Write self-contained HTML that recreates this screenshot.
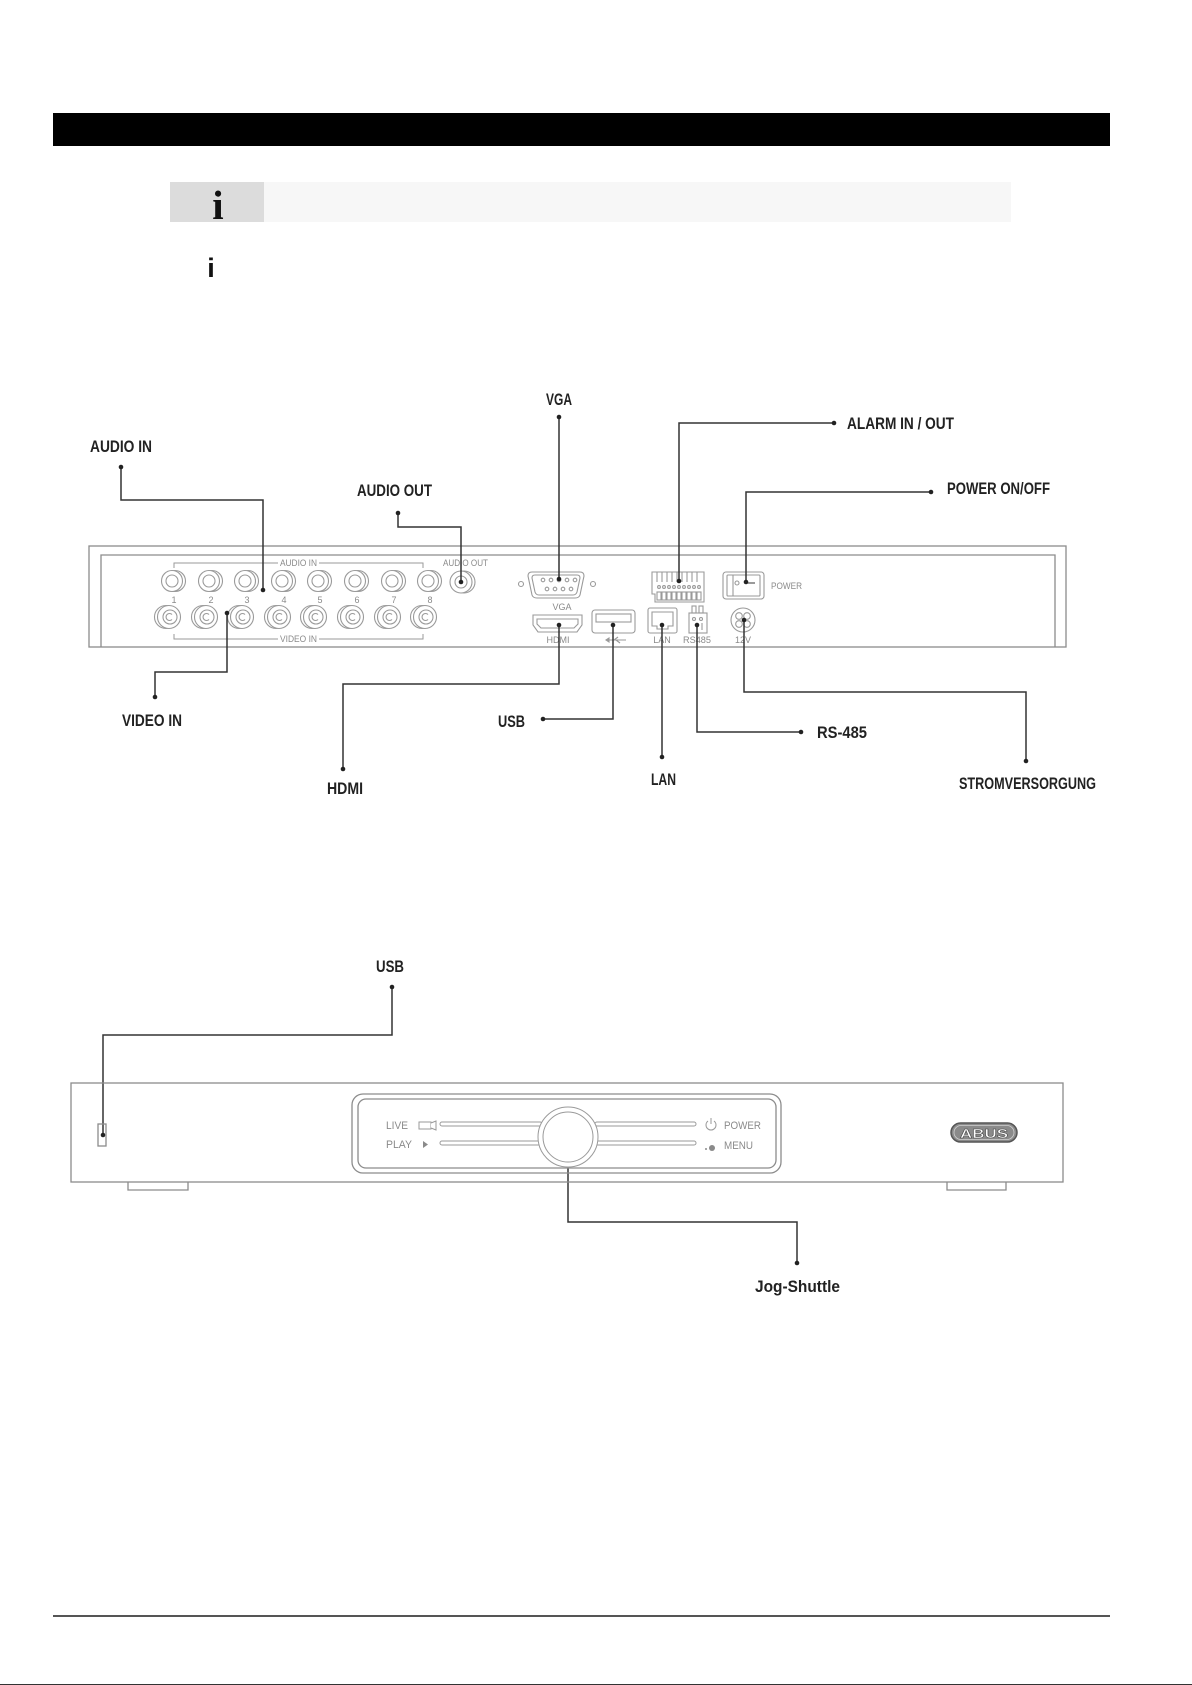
<!DOCTYPE html>
<html>
<head>
<meta charset="utf-8">
<style>
html,body{margin:0;padding:0;background:#fff;}
body{width:1192px;height:1685px;overflow:hidden;}
svg{display:block;}
.lbl{font-family:"Liberation Sans Narrow","Liberation Sans",sans-serif;font-weight:bold;font-size:17px;fill:#222;}
.sm{font-family:"Liberation Sans",sans-serif;font-size:9px;fill:#8a8a8a;}
.fp{font-family:"Liberation Sans",sans-serif;font-size:11px;fill:#8a8a8a;}
</style>
</head>
<body>
<svg width="1192" height="1685" viewBox="0 0 1192 1685" xmlns="http://www.w3.org/2000/svg">
  <!-- header -->
  <rect x="53" y="113" width="1057" height="33" fill="#000"/>
  <rect x="170" y="182" width="94" height="40" fill="#dcdcdc"/>
  <rect x="264" y="182" width="747" height="40" fill="#f7f7f7"/>
  <text x="218" y="219" text-anchor="middle" font-family="Liberation Serif,serif" font-weight="bold" font-size="41" fill="#111">i</text>
  <text x="211" y="277" text-anchor="middle" font-family="Liberation Sans,sans-serif" font-weight="bold" font-size="27" fill="#111">i</text>

  <!-- ============ REAR PANEL ============ -->
  <g fill="none" stroke="#8c8c8c" stroke-width="1.3">
    <rect x="89" y="546" width="977" height="101"/>
    <polyline points="101,647 101,555 1055,555 1055,647"/>
  </g>

  <!-- audio in bracket -->
  <g fill="none" stroke="#9a9a9a" stroke-width="1">
    <polyline points="174,568 174,563 278,563"/>
    <polyline points="319,563 423,563 423,568"/>
    <polyline points="174,634 174,639 278,639"/>
    <polyline points="319,639 423,639 423,634"/>
  </g>
  <text class="sm" x="298.5" y="566" text-anchor="middle" textLength="37" lengthAdjust="spacingAndGlyphs">AUDIO IN</text>
  <text class="sm" x="298.5" y="642" text-anchor="middle" textLength="37" lengthAdjust="spacingAndGlyphs">VIDEO IN</text>
  <text class="sm" x="443" y="566" textLength="45" lengthAdjust="spacingAndGlyphs">AUDIO OUT</text>

  <!-- RCA audio -->
  <g fill="#fff" stroke="#9a9a9a" stroke-width="1.1">
    <circle cx="175" cy="581" r="10.5"/><circle cx="172" cy="581" r="10.5"/><circle cx="172" cy="581" r="6"/>
    <circle cx="212" cy="581" r="10.5"/><circle cx="209" cy="581" r="10.5"/><circle cx="209" cy="581" r="6"/>
    <circle cx="248" cy="581" r="10.5"/><circle cx="245" cy="581" r="10.5"/><circle cx="245" cy="581" r="6"/>
    <circle cx="285" cy="581" r="10.5"/><circle cx="282" cy="581" r="10.5"/><circle cx="282" cy="581" r="6"/>
    <circle cx="321" cy="581" r="10.5"/><circle cx="318" cy="581" r="10.5"/><circle cx="318" cy="581" r="6"/>
    <circle cx="358" cy="581" r="10.5"/><circle cx="355" cy="581" r="10.5"/><circle cx="355" cy="581" r="6"/>
    <circle cx="395" cy="581" r="10.5"/><circle cx="392" cy="581" r="10.5"/><circle cx="392" cy="581" r="6"/>
    <circle cx="431" cy="581" r="10.5"/><circle cx="428" cy="581" r="10.5"/><circle cx="428" cy="581" r="6"/>
    <!-- audio out -->
    <circle cx="464" cy="582" r="11"/><circle cx="461" cy="582" r="11"/><circle cx="461" cy="582" r="6"/>
  </g>
  <!-- BNC video -->
  <g fill="#fff" stroke="#9a9a9a" stroke-width="1.1">
    <circle cx="166" cy="617" r="11.5"/><circle cx="169" cy="617" r="11.5"/><circle cx="170" cy="617" r="7"/><path d="M172,614.5 A3.5,3.5 0 1 0 172,619.5"/>
    <circle cx="203" cy="617" r="11.5"/><circle cx="206" cy="617" r="11.5"/><circle cx="207" cy="617" r="7"/><path d="M209,614.5 A3.5,3.5 0 1 0 209,619.5"/>
    <circle cx="239" cy="617" r="11.5"/><circle cx="242" cy="617" r="11.5"/><circle cx="243" cy="617" r="7"/><path d="M245,614.5 A3.5,3.5 0 1 0 245,619.5"/>
    <circle cx="276" cy="617" r="11.5"/><circle cx="279" cy="617" r="11.5"/><circle cx="280" cy="617" r="7"/><path d="M282,614.5 A3.5,3.5 0 1 0 282,619.5"/>
    <circle cx="312" cy="617" r="11.5"/><circle cx="315" cy="617" r="11.5"/><circle cx="316" cy="617" r="7"/><path d="M318,614.5 A3.5,3.5 0 1 0 318,619.5"/>
    <circle cx="349" cy="617" r="11.5"/><circle cx="352" cy="617" r="11.5"/><circle cx="353" cy="617" r="7"/><path d="M355,614.5 A3.5,3.5 0 1 0 355,619.5"/>
    <circle cx="386" cy="617" r="11.5"/><circle cx="389" cy="617" r="11.5"/><circle cx="390" cy="617" r="7"/><path d="M392,614.5 A3.5,3.5 0 1 0 392,619.5"/>
    <circle cx="422" cy="617" r="11.5"/><circle cx="425" cy="617" r="11.5"/><circle cx="426" cy="617" r="7"/><path d="M428,614.5 A3.5,3.5 0 1 0 428,619.5"/>
  </g>
  <g class="sm" text-anchor="middle">
    <text x="174" y="603">1</text><text x="211" y="603">2</text><text x="247" y="603">3</text><text x="284" y="603">4</text>
    <text x="320" y="603">5</text><text x="357" y="603">6</text><text x="394" y="603">7</text><text x="430" y="603">8</text>
  </g>

  <!-- VGA -->
  <g fill="none" stroke="#9a9a9a" stroke-width="1.1">
    <path d="M528,576 Q528,572 532,572 H580 Q584,572 584,576 L580,595 Q579,598 575,598 H537 Q533,598 532,595 Z"/>
    <path d="M532,578 Q532,575 535,575 H577 Q580,575 580,578 L577,592 Q576,595 573,595 H539 Q536,595 535,592 Z"/>
    <circle cx="521" cy="584" r="2.5"/><circle cx="593" cy="584" r="2.5"/>
    <circle cx="543" cy="580" r="1.8"/><circle cx="551" cy="580" r="1.8"/><circle cx="559" cy="580" r="1.8"/><circle cx="567" cy="580" r="1.8"/><circle cx="575" cy="580" r="1.8"/>
    <circle cx="547" cy="589" r="1.8"/><circle cx="555" cy="589" r="1.8"/><circle cx="563" cy="589" r="1.8"/><circle cx="571" cy="589" r="1.8"/>
    <!-- HDMI -->
    <path d="M533,615 H582 V625 L577,632 H538 L533,625 Z"/>
    <path d="M537,619 H578 V624 L574,628 H541 L537,624 Z"/>
    <!-- USB -->
    <rect x="592" y="610" width="43" height="23" rx="3"/>
    <rect x="596" y="614" width="35" height="8"/>
    <!-- LAN -->
    <rect x="648" y="608" width="29" height="25" rx="2"/>
    <path d="M652,612 H673 V626 H668 V629 H657 V626 H652 Z"/>
    <!-- RS485 -->
    <rect x="689" y="613" width="18" height="20"/>
    <rect x="692" y="606" width="4" height="7"/><rect x="699" y="606" width="4" height="7"/>
    <circle cx="694" cy="619" r="1.5"/><circle cx="701" cy="619" r="1.5"/>
    <line x1="702" y1="623" x2="702" y2="630"/>
    <!-- 12V -->
    <circle cx="743" cy="620" r="12"/>
    <circle cx="739" cy="616" r="3.3"/><circle cx="747" cy="616" r="3.3"/><circle cx="739" cy="624" r="3.3"/><circle cx="747" cy="624" r="3.3"/>
    <!-- alarm block -->
    <path d="M652,572 H704 V602 H655 V594 H652 Z"/>
    <line x1="657" y1="572" x2="657" y2="582"/><line x1="662" y1="572" x2="662" y2="582"/><line x1="667" y1="572" x2="667" y2="582"/>
    <line x1="672" y1="572" x2="672" y2="582"/><line x1="677" y1="572" x2="677" y2="582"/><line x1="682" y1="572" x2="682" y2="582"/>
    <line x1="687" y1="572" x2="687" y2="582"/><line x1="692" y1="572" x2="692" y2="582"/><line x1="697" y1="572" x2="697" y2="582"/>
    <circle cx="659" cy="587" r="1.4"/><circle cx="664" cy="587" r="1.4"/><circle cx="669" cy="587" r="1.4"/><circle cx="674" cy="587" r="1.4"/>
    <circle cx="679" cy="587" r="1.4"/><circle cx="684" cy="587" r="1.4"/><circle cx="689" cy="587" r="1.4"/><circle cx="694" cy="587" r="1.4"/><circle cx="699" cy="587" r="1.4"/>
    <rect x="657" y="592" width="4" height="8"/><rect x="662" y="592" width="4" height="8"/><rect x="667" y="592" width="4" height="8"/>
    <rect x="672" y="592" width="4" height="8"/><rect x="677" y="592" width="4" height="8"/><rect x="682" y="592" width="4" height="8"/>
    <rect x="687" y="592" width="4" height="8"/><rect x="692" y="592" width="4" height="8"/><rect x="697" y="592" width="4" height="8"/>
    <!-- power switch -->
    <rect x="723" y="572" width="41" height="27" rx="3"/>
    <rect x="727" y="575" width="33" height="21" rx="1"/>
    <line x1="733" y1="575" x2="733" y2="596"/>
    <circle cx="737" cy="583" r="2"/>
    <line x1="748" y1="583" x2="755" y2="583" stroke-width="2"/>
    <!-- usb symbol -->
    <line x1="606" y1="640" x2="626" y2="640"/>
    <path d="M606,640 l3,-2 v4 z" fill="#9a9a9a"/>
    <line x1="614" y1="640" x2="618" y2="637"/><line x1="616" y1="640" x2="620" y2="643"/>
  </g>
  <g class="sm" text-anchor="middle">
    <text x="562" y="610">VGA</text>
    <text x="558" y="643">HDMI</text>
    <text x="662" y="643">LAN</text>
    <text x="697" y="643" textLength="28" lengthAdjust="spacingAndGlyphs">RS485</text>
    <text x="743" y="643">12V</text>
  </g>
  <text class="sm" x="771" y="589" textLength="31" lengthAdjust="spacingAndGlyphs">POWER</text>

  <!-- connectors -->
  <g fill="none" stroke="#333" stroke-width="1.5">
    <polyline points="121,467 121,500 263,500 263,590"/>
    <polyline points="559,417 559,579"/>
    <polyline points="398,513 398,527 461,527 461,582"/>
    <polyline points="834,423 679,423 679,581"/>
    <polyline points="931,492 746,492 746,582"/>
    <polyline points="227,613 227,672 155,672 155,697"/>
    <polyline points="559,625 559,684 343,684 343,769"/>
    <polyline points="613,625 613,719 543,719"/>
    <polyline points="662,625 662,757"/>
    <polyline points="697,625 697,732 801,732"/>
    <polyline points="744,620 744,692 1026,692 1026,761"/>
    <polyline points="392,987 392,1035 103,1035 103,1135"/>
    <polyline points="568,1137 568,1222 797,1222 797,1263"/>
  </g>
  <g fill="#222">
    <circle cx="121" cy="467" r="2.3"/><circle cx="263" cy="590" r="2.3"/>
    <circle cx="559" cy="417" r="2.3"/><circle cx="559" cy="579" r="2.3"/>
    <circle cx="398" cy="513" r="2.3"/><circle cx="461" cy="582" r="2.3"/>
    <circle cx="834" cy="423" r="2.3"/><circle cx="679" cy="581" r="2.3"/>
    <circle cx="931" cy="492" r="2.3"/><circle cx="746" cy="582" r="2.3"/>
    <circle cx="227" cy="613" r="2.3"/><circle cx="155" cy="697" r="2.3"/>
    <circle cx="559" cy="625" r="2.3"/><circle cx="343" cy="769" r="2.3"/>
    <circle cx="613" cy="625" r="2.3"/><circle cx="543" cy="719" r="2.3"/>
    <circle cx="662" cy="625" r="2.3"/><circle cx="662" cy="757" r="2.3"/>
    <circle cx="697" cy="625" r="2.3"/><circle cx="801" cy="732" r="2.3"/>
    <circle cx="744" cy="620" r="2.3"/><circle cx="1026" cy="761" r="2.3"/>
    <circle cx="392" cy="987" r="2.3"/><circle cx="103" cy="1135" r="2.3"/>
    <circle cx="568" cy="1137" r="2.3"/><circle cx="797" cy="1263" r="2.3"/>
  </g>

  <!-- labels -->
  <text class="lbl" x="90" y="452" textLength="62" lengthAdjust="spacingAndGlyphs">AUDIO IN</text>
  <text class="lbl" x="546" y="405" textLength="26" lengthAdjust="spacingAndGlyphs">VGA</text>
  <text class="lbl" x="357" y="496" textLength="75" lengthAdjust="spacingAndGlyphs">AUDIO OUT</text>
  <text class="lbl" x="847" y="429" textLength="107" lengthAdjust="spacingAndGlyphs">ALARM IN / OUT</text>
  <text class="lbl" x="947" y="494" textLength="103" lengthAdjust="spacingAndGlyphs">POWER ON/OFF</text>
  <text class="lbl" x="122" y="726" textLength="60" lengthAdjust="spacingAndGlyphs">VIDEO IN</text>
  <text class="lbl" x="327" y="794" textLength="36" lengthAdjust="spacingAndGlyphs">HDMI</text>
  <text class="lbl" x="498" y="727" textLength="27" lengthAdjust="spacingAndGlyphs">USB</text>
  <text class="lbl" x="651" y="785" textLength="25" lengthAdjust="spacingAndGlyphs">LAN</text>
  <text class="lbl" x="817" y="738" textLength="50" lengthAdjust="spacingAndGlyphs">RS-485</text>
  <text class="lbl" x="959" y="789" textLength="137" lengthAdjust="spacingAndGlyphs">STROMVERSORGUNG</text>
  <text class="lbl" x="376" y="972" textLength="28" lengthAdjust="spacingAndGlyphs">USB</text>
  <text class="lbl" x="755" y="1292" textLength="85" lengthAdjust="spacingAndGlyphs">Jog-Shuttle</text>

  <!-- ============ FRONT PANEL ============ -->
  <g fill="none" stroke="#8c8c8c" stroke-width="1.3">
    <rect x="71" y="1083" width="992" height="99"/>
    <polyline points="128,1182 128,1190 188,1190 188,1182"/>
    <polyline points="947,1182 947,1190 1006,1190 1006,1182"/>
    <rect x="98" y="1124" width="8" height="22"/>
    <rect x="352" y="1094" width="429" height="79" rx="11"/>
    <rect x="358" y="1099" width="418" height="69" rx="8"/>
  </g>
  <g fill="#fff" stroke="#9a9a9a" stroke-width="1">
    <rect x="440" y="1122" width="102" height="4" rx="2"/>
    <rect x="595" y="1122" width="101" height="4" rx="2"/>
    <rect x="440" y="1141" width="102" height="4" rx="2"/>
    <rect x="595" y="1141" width="101" height="4" rx="2"/>
    <circle cx="568" cy="1137" r="30"/>
    <circle cx="568" cy="1137" r="25"/>
    <rect x="419" y="1122" width="12" height="7"/>
    <path d="M431,1123 L436,1121 V1130 L431,1128"/>
    <path d="M708,1121 A5,5 0 1 0 714,1121" fill="none"/>
    <line x1="711" y1="1118" x2="711" y2="1124"/>
  </g>
  <path d="M423,1141 L428,1144.5 L423,1148 Z" fill="#8a8a8a"/>
  <circle cx="712" cy="1148" r="3" fill="#8a8a8a"/>
  <circle cx="706" cy="1149" r="1" fill="#8a8a8a"/>
  <text class="fp" x="386" y="1129" textLength="22" lengthAdjust="spacingAndGlyphs">LIVE</text>
  <text class="fp" x="386" y="1148" textLength="26" lengthAdjust="spacingAndGlyphs">PLAY</text>
  <text class="fp" x="724" y="1129" textLength="37" lengthAdjust="spacingAndGlyphs">POWER</text>
  <text class="fp" x="724" y="1149" textLength="29" lengthAdjust="spacingAndGlyphs">MENU</text>
  <rect x="951" y="1123" width="66" height="19" rx="9.5" fill="#8a8a8a" stroke="#555" stroke-width="1.5"/>
  <rect x="954" y="1125.5" width="60" height="14" rx="7" fill="none" stroke="#d0d0d0" stroke-width="0.8"/>
  <text x="984" y="1138" text-anchor="middle" font-family="Liberation Sans,sans-serif" font-weight="bold" font-size="13" fill="#fff" stroke="#444" stroke-width="0.5" textLength="48" lengthAdjust="spacingAndGlyphs">ABUS</text>

  <!-- footer -->
  <rect x="53" y="1615" width="1057" height="2" fill="#555"/>
  <rect x="0" y="1684" width="1192" height="1" fill="#333"/>
</svg>
</body>
</html>
